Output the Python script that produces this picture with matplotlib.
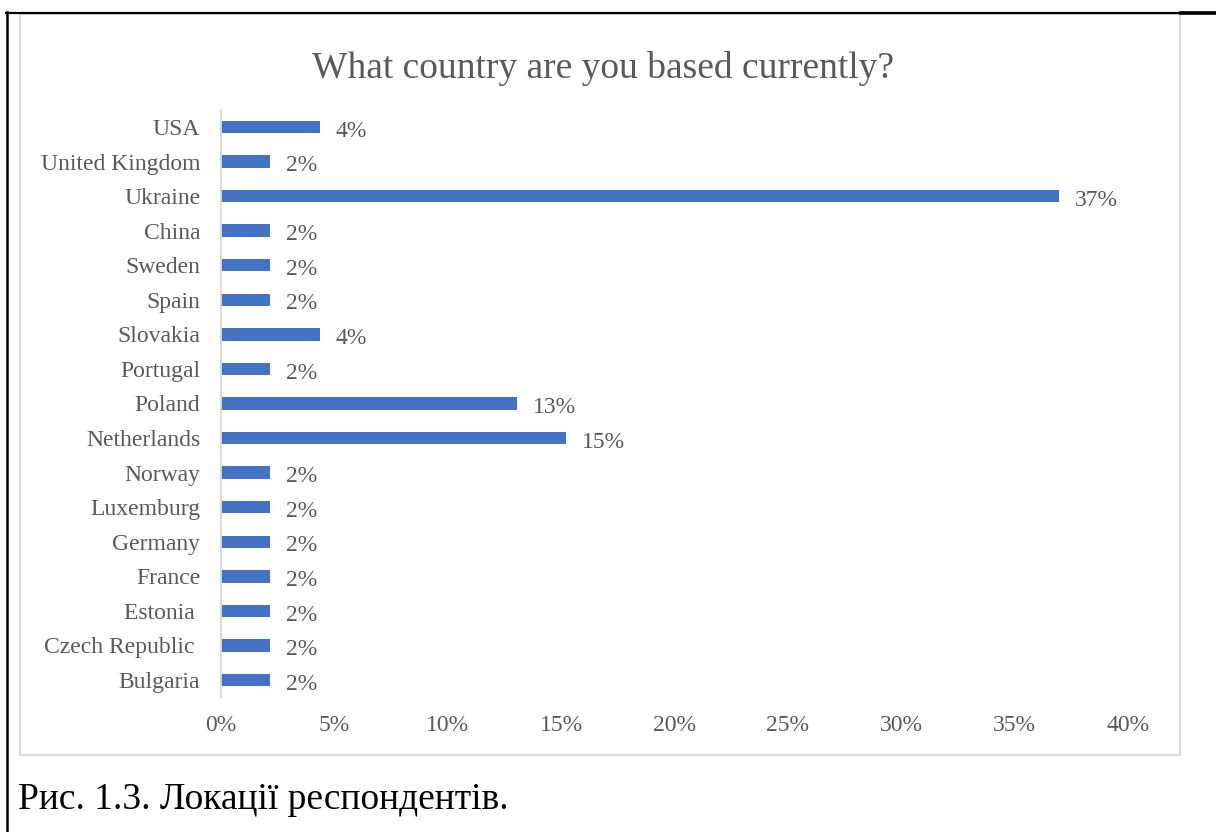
import matplotlib.pyplot as plt
from matplotlib.lines import Line2D
from matplotlib.patches import Rectangle

# data
countries = ['USA', 'United Kingdom', 'Ukraine', 'China', 'Sweden', 'Spain',
             'Slovakia', 'Portugal', 'Poland', 'Netherlands', 'Norway',
             'Luxemburg', 'Germany', 'France', 'Estonia ', 'Czech Republic ',
             'Bulgaria']
shares = [4.35, 2.17, 36.96, 2.17, 2.17, 2.17, 4.35, 2.17, 13.04, 15.22,
          2.17, 2.17, 2.17, 2.17, 2.17, 2.17, 2.17]
labels = ['4%', '2%', '37%', '2%', '2%', '2%', '4%', '2%', '13%', '15%',
          '2%', '2%', '2%', '2%', '2%', '2%', '2%']
xticks = [0, 5, 10, 15, 20, 25, 30, 35, 40]

W, H = 1216, 832
bar_color = '#4472C4'
text_gray = '#595959'
border_gray = '#D9D9D9'
serif = ['Liberation Serif', 'DejaVu Serif']


def px(x, y):
    """pixel coords (top-left origin) -> figure fraction"""
    return x / W, 1 - y / H


def main():
    plt.rcParams['font.family'] = serif
    fig = plt.figure(figsize=(W / 100, H / 100), dpi=100)

    # document table borders
    fig.add_artist(Line2D([6 / W, 1], [1 - 12.5 / H] * 2, color='black', lw=1.6))
    fig.add_artist(Line2D([1181 / W, 1], [1 - 13 / H] * 2, color='black', lw=2.6))
    fig.add_artist(Line2D([7 / W] * 2, [1 - 12 / H, 0], color='black', lw=1.8))

    # chart frame
    fig.add_artist(Rectangle(px(20, 755), 1160 / W, 741 / H, fill=False,
                             edgecolor=border_gray, lw=1.5,
                             transform=fig.transFigure))

    left, right, top, bottom = 221, 1128, 109.7, 697.3
    ax = fig.add_axes([left / W, 1 - bottom / H, (right - left) / W,
                       (bottom - top) / H])

    ypos = list(range(len(countries)))
    ax.barh(ypos, shares, height=0.36, color=bar_color)
    for y, v, lab in zip(ypos, shares, labels):
        ax.text(v + 0.7, y + 0.12, lab, va='center', ha='left',
                fontsize=17, color=text_gray)

    ax.set_xlim(0, 40)
    ax.set_ylim(len(countries) - 0.5, -0.5)
    ax.set_yticks(ypos)
    ax.set_yticklabels(countries, fontsize=17, color=text_gray)
    ax.set_xticks(xticks)
    ax.set_xticklabels([f'{t}%' for t in xticks], fontsize=17, color=text_gray)
    ax.tick_params(axis='y', length=0, pad=15)
    ax.tick_params(axis='x', length=0, pad=13)
    for s in ['top', 'right', 'bottom']:
        ax.spines[s].set_visible(False)
    ax.spines['left'].set_color(border_gray)
    ax.spines['left'].set_linewidth(1.3)

    fig.text(603 / W, 1 - 68 / H, 'What country are you based currently?',
             ha='center', va='center', fontsize=27, color=text_gray)

    fig.text(18 / W, 1 - 800 / H, 'Рис. 1.3. Локації респондентів.',
             ha='left', va='center', fontsize=27, color='black')

    fig.savefig('out.png', dpi=100)


if __name__ == '__main__':
    main()
